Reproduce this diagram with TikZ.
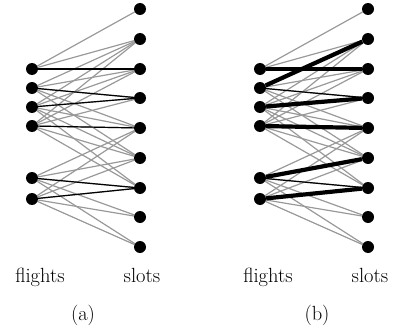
\documentclass[tikz,border=0pt]{standalone}
\pgfdeclarelayer{bg}
\pgfsetlayers{bg,main}
\begin{document}
\begin{tikzpicture}[x=1pt,y=-1pt]
\tikzset{
  dot/.style={circle,fill=black,inner sep=0pt,minimum size=12pt},
  cand/.style={draw=black!40,line width=1.2pt},
  init/.style={draw=black,line width=1.2pt},
  chosen/.style={draw=black,line width=4.2pt},
  lbl/.style={font=\fontsize{20.5}{24}\selectfont,inner sep=0pt,anchor=base}
}
\useasboundingbox (0,0) rectangle (396,329);

\foreach \p/\dx in {a/0,b/228}{
  % flights (left column) and slots (right column)
  \foreach \i/\y in {1/69,2/88,3/107,4/126,5/178,6/199}
    \node[dot] (\p f\i) at (32+\dx,\y) {};
  \foreach \j/\y in {1/9,2/39,3/69,4/98,5/128,6/158,7/188,8/217,9/247}
    \node[dot] (\p s\j) at (140+\dx,\y) {};
  % feasible flight-slot pairs
  \begin{pgfonlayer}{bg}
    \foreach \i/\j in {1/1,1/2,1/3,
                       2/2,2/3,2/4,2/5,2/6,
                       3/2,3/3,3/4,3/5,3/6,3/7,
                       4/2,4/3,4/4,4/5,4/6,4/7,
                       5/5,5/6,5/7,5/8,5/9,
                       6/5,6/6,6/7,6/8,6/9}
      \draw[cand] (\p f\i) -- (\p s\j);
  \end{pgfonlayer}
  \node[lbl] (\p fl) at (40+\dx,282) {flights};
  \node[lbl] (\p sl) at (142+\dx,282) {slots};
}

% initial assignment
\begin{pgfonlayer}{bg}
  \foreach \i/\j in {1/3,2/4,3/4,4/5,5/7,6/7}
    \draw[init] (af\i) -- (as\j);
  \foreach \i/\j in {2/4,5/7}
    \draw[init] (bf\i) -- (bs\j);
  % final assignment
  \foreach \i/\j in {1/3,2/2,3/4,4/5,5/6,6/7}
    \draw[chosen] (bf\i) -- (bs\j);
\end{pgfonlayer}

\node[lbl] (capa) at (83,320) {(a)};
\node[lbl] (capb) at (317,320) {(b)};
\end{tikzpicture}
\end{document}
